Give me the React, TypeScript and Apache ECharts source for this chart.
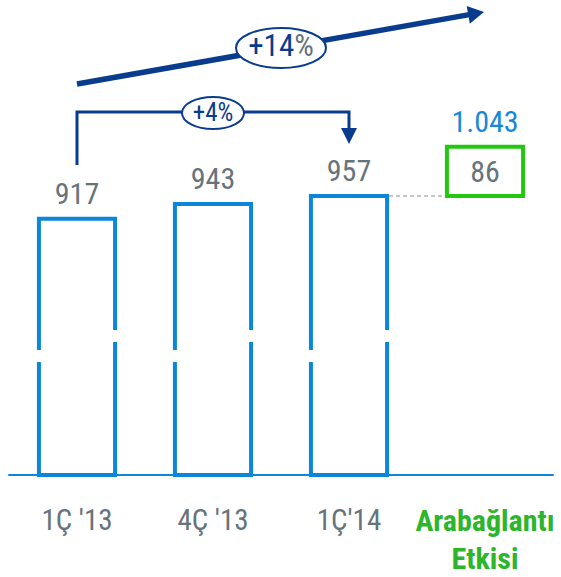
import React, { useEffect, useRef } from 'react';
import * as echarts from 'echarts';

// ---- data ----
const categories = ["1Ç '13", "4Ç '13", "1Ç'14", 'Arabağlantı\nEtkisi'];
const quarterValues = [917, 943, 957];
const linkBase = [957];
const linkEffect = [86];
const linkTotalLabels = ['1.043'];
const growthTotalLabel = ['+14', '%'];
const growthQuarterLabel = '+4%';

// ---- styles / layout ----
const FONT = "'Roboto Condensed', Roboto, sans-serif";
const BLUE = '#0b86d8';
const NAVY = '#0a3c8e';
const GRAY = '#66737b';
const GREEN_BOX = '#22c810';
const GREEN_TEXT = '#2db52b';
const Y_MIN = 470;
const Y_MAX = 1100;
const BREAK_VALUE = 695;
const BAR_RATIO = 0.56;

export default function App() {
  const ref = useRef<HTMLDivElement>(null);

  useEffect(() => {
    if (!ref.current) return;
    const chart = echarts.init(ref.current, null, { renderer: 'svg' });

    const renderBar = (params: any, api: any) => {
      const i = api.value(0);
      const v = api.value(1);
      const [cx, top] = api.coord([i, v]);
      const bottom = api.coord([i, Y_MIN])[1];
      const bc = api.coord([i, BREAK_VALUE])[1];
      const w = api.size([1, 0])[0] * BAR_RATIO;
      const xl = cx - w / 2;
      const xr = cx + w / 2;
      const line = { stroke: BLUE, lineWidth: 4, fill: null, lineJoin: 'miter', lineCap: 'butt' };
      return {
        type: 'group',
        children: [
          { type: 'polyline', shape: { points: [[xl, bc + 4], [xl, top], [xr, top], [xr, bc - 16]] }, style: line },
          { type: 'polyline', shape: { points: [[xl, bc + 16], [xl, bottom], [xr, bottom], [xr, bc - 4]] }, style: line },
          {
            type: 'text',
            x: cx,
            y: top - 25,
            style: { text: String(v), fill: GRAY, fontSize: 30, fontFamily: FONT, align: 'center', verticalAlign: 'middle' },
          },
        ],
      };
    };

    const renderLink = (params: any, api: any) => {
      const i = api.value(0);
      const base = api.value(1);
      const eff = api.value(2);
      const [cx, yb] = api.coord([i, base]);
      const yt = api.coord([i, base + eff])[1];
      const band = api.size([1, 0])[0];
      const w = band * BAR_RATIO;
      return {
        type: 'group',
        children: [
          {
            type: 'line',
            shape: { x1: cx - band + w / 2 + 2, y1: yb, x2: cx - w / 2 - 2, y2: yb },
            style: { stroke: '#b3b3b3', lineWidth: 1.5, lineDash: [4, 3] },
          },
          {
            type: 'rect',
            shape: { x: cx - w / 2, y: yt, width: w, height: yb - yt },
            style: { fill: '#fff', stroke: GREEN_BOX, lineWidth: 4 },
          },
          {
            type: 'text',
            x: cx,
            y: (yt + yb) / 2,
            style: { text: String(eff), fill: GRAY, fontSize: 30, fontFamily: FONT, align: 'center', verticalAlign: 'middle' },
          },
          {
            type: 'text',
            x: cx,
            y: yt - 25,
            style: { text: linkTotalLabels[params.dataIndex], fill: '#1589d8', fontSize: 30, fontFamily: FONT, align: 'center', verticalAlign: 'middle' },
          },
        ],
      };
    };

    chart.setOption({
      animation: false,
      backgroundColor: '#fff',
      grid: { left: 9, right: 8, top: 114, bottom: 102, containLabel: false, outerBoundsMode: 'none' },
      xAxis: {
        type: 'category',
        data: categories.map((c, i) =>
          i === 3
            ? { value: c, textStyle: { color: GREEN_TEXT, fontWeight: 'bold', fontSize: 30, lineHeight: 38, fontFamily: FONT } }
            : { value: c, textStyle: { color: GRAY, fontSize: 29, lineHeight: 37, fontFamily: FONT } }
        ),
        axisLine: { lineStyle: { color: BLUE, width: 2 } },
        axisTick: { show: false },
        axisLabel: { margin: 26, fontSize: 29, lineHeight: 37, fontFamily: FONT, interval: 0 },
      },
      yAxis: { type: 'value', min: Y_MIN, max: Y_MAX, show: false, splitLine: { show: false } },
      series: [
        {
          type: 'custom',
          renderItem: renderBar,
          data: quarterValues.map((v, i) => [i, v]),
          z: 3,
        },
        {
          type: 'custom',
          renderItem: renderLink,
          data: linkBase.map((b, k) => [3 + k, b, linkEffect[k]]),
          z: 3,
        },
      ],
    });

    const px = (i: number) => (chart.convertToPixel({ gridIndex: 0 }, [i, Y_MIN]) as number[])[0];
    const x0 = px(0), x1 = px(1), x2 = px(2), x3 = px(3);

    // big arrow
    const sx = x0, sy = 84, tx = x3 - 1, ty = 12;
    const len = Math.hypot(tx - sx, ty - sy);
    const ux = (tx - sx) / len, uy = (ty - sy) / len;
    const hl = 16, hw = 9;
    const bx = tx - ux * hl, by = ty - uy * hl;
    const mx = (sx + tx) / 2 + 0.5, my = sy + (ty - sy) * ((mx - sx) / (tx - sx));

    chart.setOption({
      graphic: [
        { type: 'line', shape: { x1: sx, y1: sy, x2: bx + ux, y2: by + uy }, style: { stroke: NAVY, lineWidth: 5.5 }, z: 10 },
        {
          type: 'polygon',
          shape: { points: [[tx, ty], [bx - uy * hw, by + ux * hw], [bx + uy * hw, by - ux * hw]] },
          style: { fill: NAVY },
          z: 10,
        },
        { type: 'ellipse', shape: { cx: mx, cy: my, rx: 45, ry: 20 }, style: { fill: '#fff', stroke: NAVY, lineWidth: 2 }, z: 11 },
        {
          type: 'text',
          x: mx,
          y: my - 2,
          style: {
            text: `{a|${growthTotalLabel[0]}}{b|${growthTotalLabel[1]}}`,
            align: 'center',
            verticalAlign: 'middle',
            rich: {
              a: { fill: NAVY, color: NAVY, fontSize: 31, fontFamily: FONT },
              b: { fill: GRAY, color: GRAY, fontSize: 31, fontFamily: FONT },
            },
          },
          z: 12,
        },
        // quarter connector
        {
          type: 'polyline',
          shape: { points: [[x0, 165], [x0, 112], [x2, 112], [x2, 130]] },
          style: { stroke: NAVY, lineWidth: 3, fill: null },
          z: 10,
        },
        { type: 'polygon', shape: { points: [[x2 - 8, 128], [x2 + 8, 128], [x2, 144]] }, style: { fill: NAVY }, z: 10 },
        { type: 'ellipse', shape: { cx: x1, cy: 113, rx: 31, ry: 16 }, style: { fill: '#fff', stroke: NAVY, lineWidth: 2 }, z: 11 },
        {
          type: 'text',
          x: x1,
          y: 112,
          style: { text: growthQuarterLabel, fill: NAVY, fontSize: 25, fontFamily: FONT, align: 'center', verticalAlign: 'middle' },
          z: 12,
        },
      ],
    });

    return () => chart.dispose();
  }, []);

  return <div ref={ref} style={{ position: 'absolute', left: 0, top: 0, width: 561, height: 577 }} />;
}
